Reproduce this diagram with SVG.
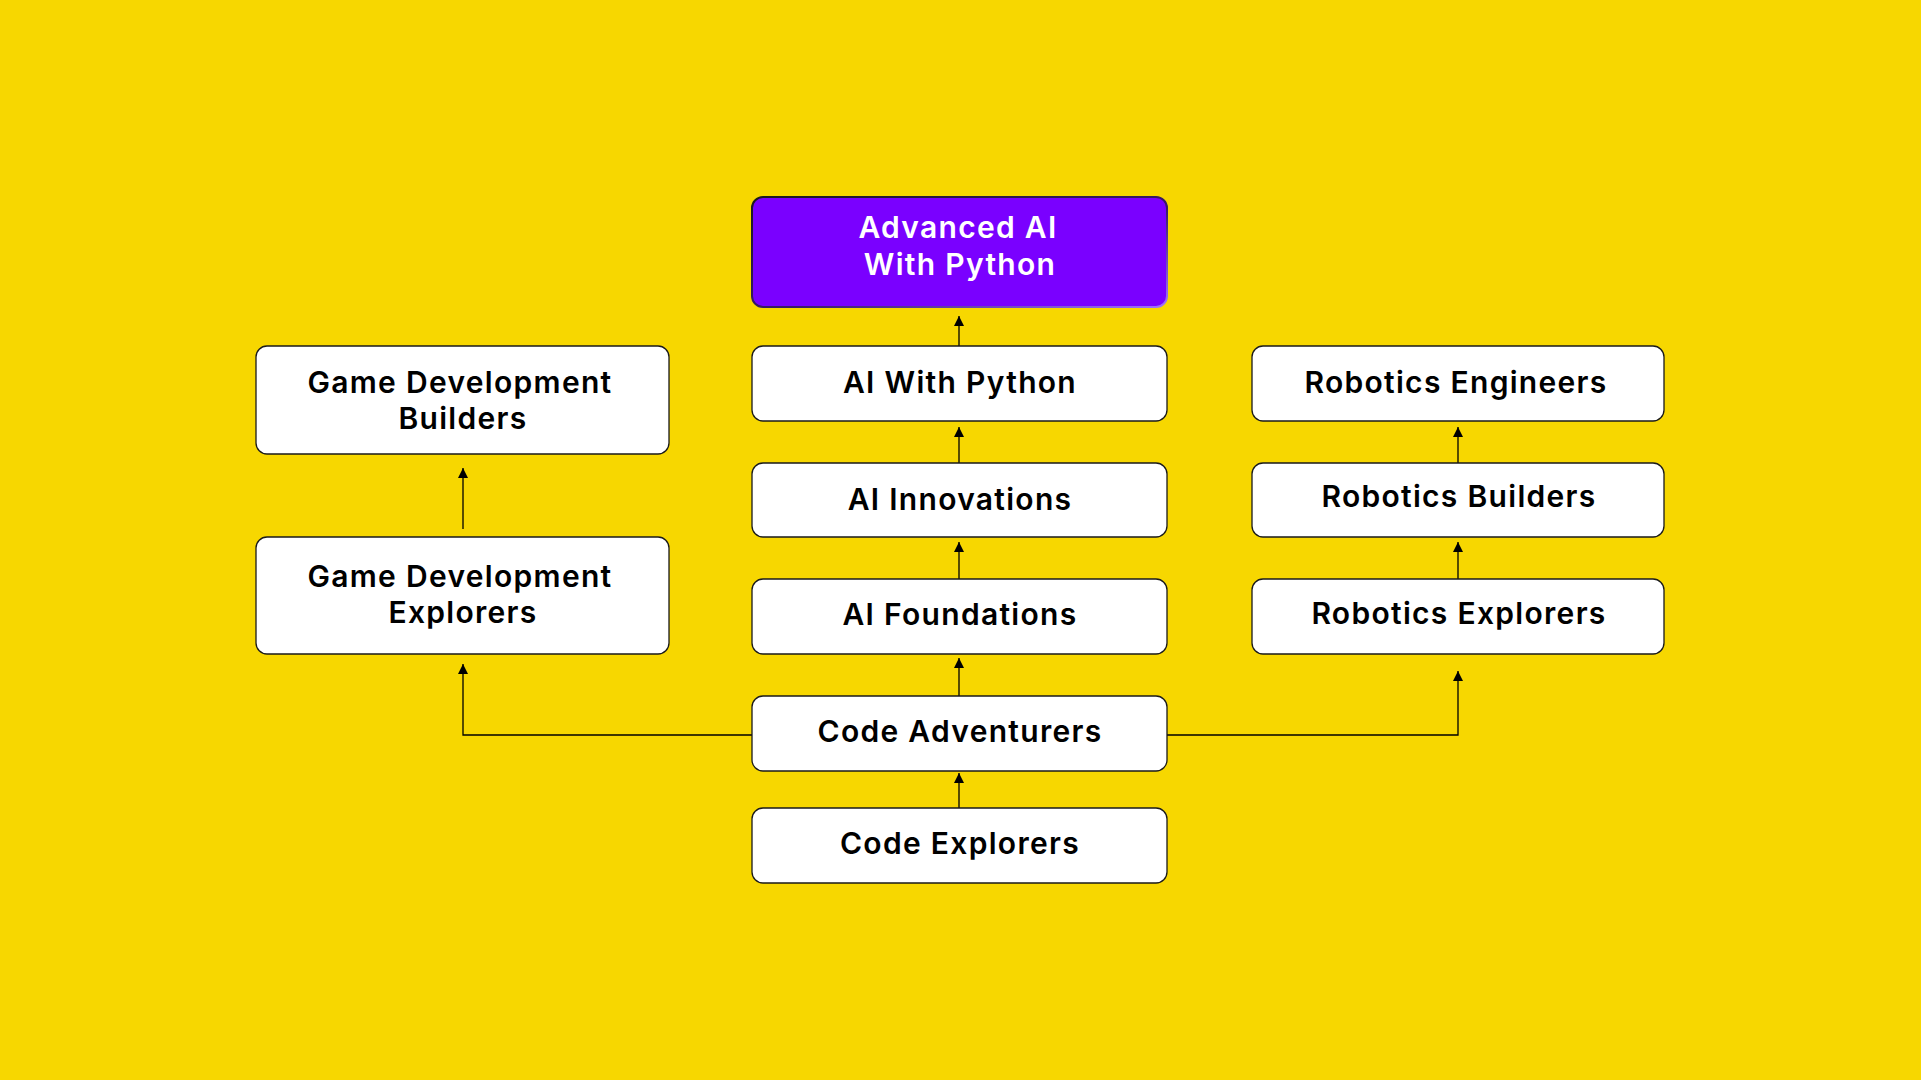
<svg xmlns="http://www.w3.org/2000/svg" width="1921" height="1080" viewBox="0 0 1921 1080">
  <defs>
    <linearGradient id="purpleStroke" x1="0" y1="0" x2="1" y2="1">
      <stop offset="0" stop-color="#1a1a1a"/>
      <stop offset="0.55" stop-color="#3a1a6a"/>
      <stop offset="1" stop-color="#a070ff"/>
    </linearGradient>
    <marker id="arrow" viewBox="0 0 10 10" refX="10" refY="5" markerWidth="10" markerHeight="10" markerUnits="userSpaceOnUse" orient="auto">
      <path d="M0,0 L10,5 L0,10 z" fill="#000"/>
    </marker>
  </defs>
  <style>
    .box { fill: #ffffff; stroke: #1a1a1a; stroke-width: 1.3; }
    .purple { fill: #7A00FF; stroke: url(#purpleStroke); stroke-width: 2; }
    .lbl { font-family: Inter, "Noto Sans", "Liberation Sans", sans-serif; font-weight: 600; font-size: 30px; letter-spacing: 1.3px; fill: #000; text-anchor: middle; }
    .lblw { fill: #ffffff; }
    .conn { fill: none; stroke: #000; stroke-width: 1.3; marker-end: url(#arrow); }
  </style>
  <rect x="0" y="0" width="1921" height="1080" fill="#F7D700"/>

  <g id="connectors">
    <path class="conn" d="M959,346 V316"/>
    <path class="conn" d="M959,463 V427"/>
    <path class="conn" d="M959,579 V542"/>
    <path class="conn" d="M959,696 V658"/>
    <path class="conn" d="M959,808 V773"/>
    <path class="conn" d="M463,529 V468"/>
    <path class="conn" d="M1458,463 V427"/>
    <path class="conn" d="M1458,579 V542"/>
    <path class="conn" d="M752,735 H463 V664"/>
    <path class="conn" d="M1167,735 H1458 V671"/>
  </g>

  <g id="advanced-ai-with-python">
    <rect class="purple" x="752" y="197" width="415" height="110" rx="11"/>
    <text class="lbl lblw" x="958" y="238">Advanced AI</text>
    <text class="lbl lblw" x="960" y="275">With Python</text>
  </g>
  <g id="ai-with-python">
    <rect class="box" x="752" y="346" width="415" height="75" rx="11"/>
    <text class="lbl" x="960" y="393">AI With Python</text>
  </g>
  <g id="ai-innovations">
    <rect class="box" x="752" y="463" width="415" height="74" rx="11"/>
    <text class="lbl" x="960" y="510">AI Innovations</text>
  </g>
  <g id="ai-foundations">
    <rect class="box" x="752" y="579" width="415" height="75" rx="11"/>
    <text class="lbl" x="960" y="625">AI Foundations</text>
  </g>
  <g id="code-adventurers">
    <rect class="box" x="752" y="696" width="415" height="75" rx="11"/>
    <text class="lbl" x="960" y="742">Code Adventurers</text>
  </g>
  <g id="code-explorers">
    <rect class="box" x="752" y="808" width="415" height="75" rx="11"/>
    <text class="lbl" x="960" y="854">Code Explorers</text>
  </g>
  <g id="game-development-builders">
    <rect class="box" x="256" y="346" width="413" height="108" rx="11"/>
    <text class="lbl" x="460" y="393">Game Development</text>
    <text class="lbl" x="463" y="429">Builders</text>
  </g>
  <g id="game-development-explorers">
    <rect class="box" x="256" y="537" width="413" height="117" rx="11"/>
    <text class="lbl" x="460" y="587">Game Development</text>
    <text class="lbl" x="463" y="623">Explorers</text>
  </g>
  <g id="robotics-engineers">
    <rect class="box" x="1252" y="346" width="412" height="75" rx="11"/>
    <text class="lbl" x="1456" y="393">Robotics Engineers</text>
  </g>
  <g id="robotics-builders">
    <rect class="box" x="1252" y="463" width="412" height="74" rx="11"/>
    <text class="lbl" x="1459" y="507">Robotics Builders</text>
  </g>
  <g id="robotics-explorers">
    <rect class="box" x="1252" y="579" width="412" height="75" rx="11"/>
    <text class="lbl" x="1459" y="624">Robotics Explorers</text>
  </g>
</svg>
